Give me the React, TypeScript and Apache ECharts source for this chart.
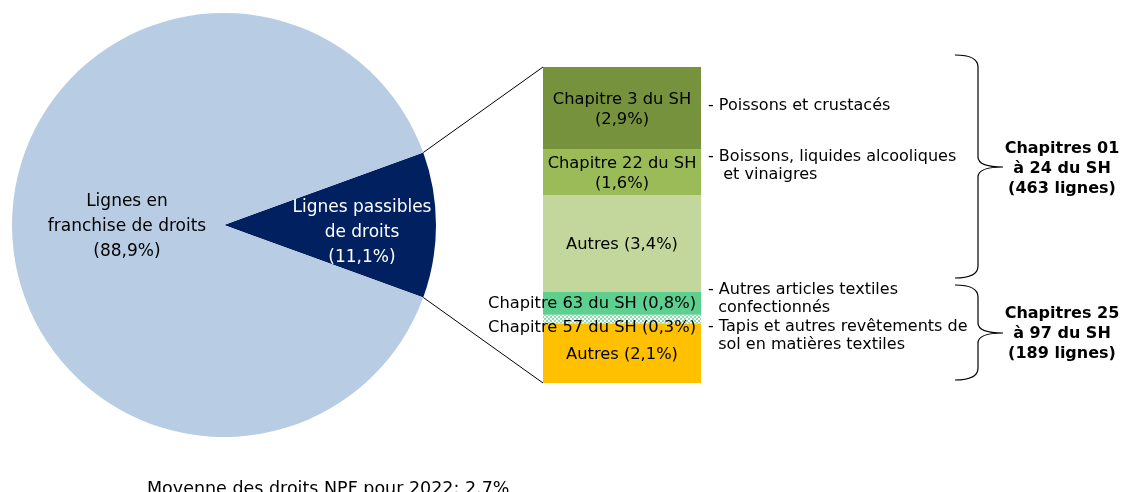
import React, { useEffect, useRef } from "react";
import * as echarts from "echarts";

const pieNames = ["Lignes passibles\nde droits\n(11,1%)", "Lignes en\nfranchise de droits\n(88,9%)"];
const pieValues = [11.1, 88.9];
const pieColors = ["#002060", "#b8cce4"];
const pieLabelColors = ["#ffffff", "#000000"];

// stacked bar segments, bottom to top
const barNames = ["Autres (2,1%)", "Chapitre 57 du SH (0,3%)", "Chapitre 63 du SH (0,8%)", "Autres (3,4%)", "Chapitre 22 du SH\n(1,6%)", "Chapitre 3 du SH\n(2,9%)"];
const barValues = [2.1, 0.3, 0.8, 3.4, 1.6, 2.9];
const barColors = ["#ffc000", "#ffffff", "#5dd08f", "#c3d69b", "#9bbb59", "#76923c"];

const notes = [
  "- Poissons et crustacés",
  "- Boissons, liquides alcooliques\n   et vinaigres",
  "- Autres articles textiles\n  confectionnés",
  "- Tapis et autres revêtements de\n  sol en matières textiles",
];
const groupLabels = ["Chapitres 01\nà 24 du SH\n(463 lignes)", "Chapitres 25\nà 97 du SH\n(189 lignes)"];
const footnote = "Moyenne des droits NPF pour 2022: 2.7%";

const FONT = "DejaVu Sans, Verdana, sans-serif";

export default function App() {
  const ref = useRef<HTMLDivElement>(null);
  useEffect(() => {
    if (!ref.current) return;
    const chart = echarts.init(ref.current, null, { renderer: "svg" });

    const cx = 224, cy = 225, R = 212;
    const half = (pieValues[0] / (pieValues[0] + pieValues[1])) * 180;
    const rad = (half * Math.PI) / 180;
    const p1 = [cx + R * Math.cos(rad), cy - R * Math.sin(rad)];
    const p2 = [cx + R * Math.cos(rad), cy + R * Math.sin(rad)];
    const barL = 543, barT = 67, barW = 158, barH = 316;

    const brace = (x0: number, xv: number, tip: number, y0: number, ym: number, y1: number) =>
      `M${x0},${y0} Q${xv},${y0} ${xv},${y0 + 12} L${xv},${ym - 10} Q${xv},${ym} ${tip},${ym} Q${xv},${ym} ${xv},${ym + 10} L${xv},${y1 - 12} Q${xv},${y1} ${x0},${y1}`;
    try {
      echarts.graphic.registerShape("braceTop", echarts.graphic.extendPath(brace(955, 978, 1003, 55, 167, 278), {}));
      echarts.graphic.registerShape("braceBottom", echarts.graphic.extendPath(brace(955, 978, 1003, 285, 333, 380), {}));
    } catch (e) {}

    const noteYs = [95, 146, 279, 316];

    const option: any = {
      animation: false,
      grid: { left: barL, top: barT, width: barW, height: barH },
      xAxis: { type: "category", data: [""], show: false },
      yAxis: { type: "value", min: 0, max: 11.1, show: false },
      series: [
        {
          type: "pie",
          center: [cx, cy],
          radius: R,
          startAngle: half,
          clockwise: true,
          silent: true,
          data: pieValues.map((v, i) => ({
            value: v,
            name: pieNames[i],
            itemStyle: { color: pieColors[i] },
            label: { color: pieLabelColors[i] },
          })),
          label: {
            show: true,
            position: "inside",
            formatter: "{b}",
            fontFamily: FONT,
            fontSize: 17,
            lineHeight: 25,
            align: "center",
          },
          labelLayout: (p: any) => (p.dataIndex === 0 ? { dx: 29, dy: 6 } : { dx: 12, dy: 0 }),
          labelLine: { show: false },
        },
        ...barValues.map((v, i) => ({
          type: "bar",
          stack: "s",
          barWidth: "100%",
          name: barNames[i],
          data: [v],
          silent: true,
          itemStyle:
            i === 1
              ? {
                  color: "#ffffff",
                  decal: {
                    symbol: "rect",
                    symbolSize: 1,
                    color: "#8fdcab",
                    dashArrayX: [[2, 2], [0, 2, 2, 0]],
                    dashArrayY: [2, 0],
                    rotation: 0,
                  },
                }
              : { color: barColors[i] },
          label: {
            show: true,
            position: "inside",
            formatter: barNames[i],
            color: "#000000",
            fontFamily: FONT,
            fontSize: 16.3,
            lineHeight: 20,
            offset: i === 1 ? [-30, 8] : i === 2 ? [-30, -1] : [0, 0],
          },
        })),
      ],
      graphic: [
        { type: "line", shape: { x1: p1[0], y1: p1[1], x2: barL, y2: barT }, style: { stroke: "#000", lineWidth: 1 } },
        { type: "line", shape: { x1: p2[0], y1: p2[1], x2: barL, y2: barT + barH }, style: { stroke: "#000", lineWidth: 1 } },
        ...notes.map((t, i) => ({
          type: "text",
          x: 708,
          y: noteYs[i],
          style: { text: t, font: `16px ${FONT}`, fill: "#000", lineHeight: 18.5, align: "left", verticalAlign: "top" },
        })),
        { type: "braceTop", style: { stroke: "#000", lineWidth: 1.2, fill: "none" } },
        { type: "braceBottom", style: { stroke: "#000", lineWidth: 1.2, fill: "none" } },
        ...groupLabels.map((t, i) => ({
          type: "text",
          x: 1062,
          y: [167, 332][i],
          style: { text: t, font: `bold 16px ${FONT}`, fill: "#000", lineHeight: 20, align: "center", verticalAlign: "middle" },
        })),
        {
          type: "text",
          x: 147,
          y: 488,
          style: { text: footnote, font: `17.5px ${FONT}`, fill: "#000", align: "left", verticalAlign: "middle" },
        },
      ],
    };
    chart.setOption(option);
    return () => chart.dispose();
  }, []);
  return <div ref={ref} style={{ position: "fixed", left: 0, top: 0, width: 1121, height: 492 }} />;
}
